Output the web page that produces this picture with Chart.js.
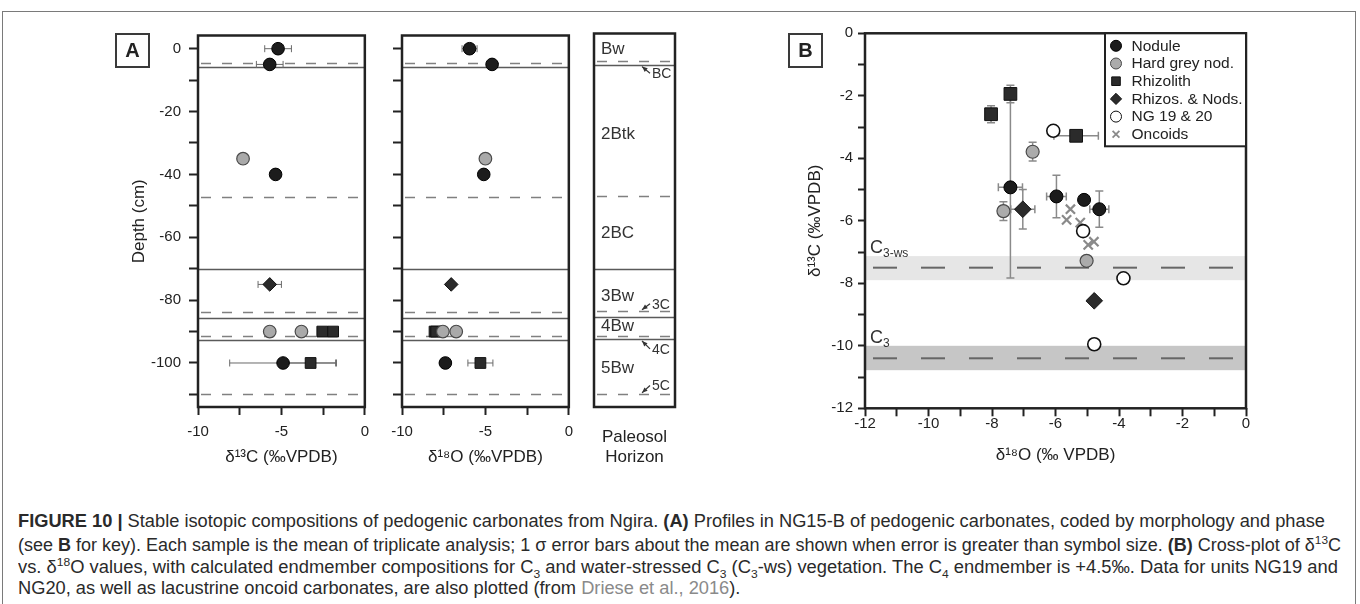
<!DOCTYPE html>
<html>
<head>
<meta charset="utf-8">
<script src="https://cdn.jsdelivr.net/npm/chart.js@4.4.1/dist/chart.umd.min.js"></script>
<style>
html,body{margin:0;padding:0;background:#fff;}
body{width:1360px;height:604px;position:relative;overflow:hidden;font-family:'Liberation Sans',Arial,Helvetica,sans-serif;color:#222;}
canvas{position:absolute;}
.plabel{position:absolute;width:31px;height:31px;border:2px solid #3a3a3a;font-weight:bold;font-size:20px;line-height:31px;text-align:center;color:#222;z-index:2;}
.frame{position:absolute;left:2px;top:11px;width:1352px;height:620px;border:1.5px solid #7a7a7a;}
.cap{position:absolute;left:18px;white-space:nowrap;font-family:'Liberation Sans Narrow','Liberation Sans',Arial,sans-serif;font-size:17.5px;line-height:20px;color:#2a2a2a;transform-origin:0 0;}
.cap sup,.cap sub{font-size:11.5px;line-height:0;}
.cap .ref{color:#8a8a8a;}
</style>
</head>
<body>
<div class="frame"></div>
<div class="plabel" style="left:115px;top:33px;">A</div>
<div class="plabel" style="left:788px;top:33px;">B</div>
<canvas id="cA1" width="249" height="447" style="left:129px;top:20px;"></canvas>
<canvas id="cA2" width="200" height="447" style="left:382px;top:20px;"></canvas>
<canvas id="cA3" width="101" height="447" style="left:584px;top:20px;"></canvas>
<canvas id="cB" width="451" height="447" style="left:805px;top:20px;"></canvas>

<div class="cap" id="cap1" style="top:511px;"><b>FIGURE 10 |</b> Stable isotopic compositions of pedogenic carbonates from Ngira. <b>(A)</b> Profiles in NG15-B of pedogenic carbonates, coded by morphology and phase</div>
<div class="cap" id="cap2" style="top:535px;">(see <b>B</b> for key). Each sample is the mean of triplicate analysis; 1 σ error bars about the mean are shown when error is greater than symbol size. <b>(B)</b> Cross-plot of δ<sup>13</sup>C</div>
<div class="cap" id="cap3" style="top:557px;">vs. δ<sup>18</sup>O values, with calculated endmember compositions for C<sub>3</sub> and water-stressed C<sub>3</sub> (C<sub>3</sub>-ws) vegetation. The C<sub>4</sub> endmember is +4.5‰. Data for units NG19 and</div>
<div class="cap" id="cap4" style="top:578px;">NG20, as well as lacustrine oncoid carbonates, are also plotted (from <span class="ref">Driese et al., 2016</span>).</div>

<script>
// ================= Panel A: depth profiles (NG15-B) =================
const depthTickLabels = [0, -20, -40, -60, -80, -100];
const isoTickLabelsA = [-10, -5, 0];

const noduleDepth   = [0, -5, -40, -100];
const noduleC13     = [-5.2, -5.7, -5.35, -4.9];
const noduleC13Err  = [0.8, 0.8, 0, 3.2];
const noduleO18     = [-5.95, -4.6, -5.1, -7.4];
const noduleO18Err  = [0.45, 0, 0, 0];

const greyNodDepth  = [-35, -90, -90];
const greyNodC13    = [-7.3, -5.7, -3.8];
const greyNodO18    = [-5.0, -7.55, -6.75];

const rhizolithDepth   = [-90, -90, -100];
const rhizolithC13     = [-2.55, -1.9, -3.25];
const rhizolithC13Err  = [0, 0, 1.5];
const rhizolithO18     = [-8.05, -7.95, -5.3];
const rhizolithO18Err  = [0, 0, 0.75];

const rhizNodDepth  = [-75];
const rhizNodC13    = [-5.7];
const rhizNodC13Err = [0.7];
const rhizNodO18    = [-7.05];

const dashedBoundaries = [-4.5, -47.3, -83.7, -91.5, -110];
const solidBoundaries  = [-5.8, -70.2, -85.6, -92.6];

const horizonNames       = ['Bw', '2Btk', '2BC', '3Bw', '4Bw', '5Bw'];
const horizonLabelDepth  = [-0.6, -27.3, -58.7, -78.5, -88.2, -101.5];
const transitionNames    = ['BC', '3C', '4C', '5C'];
const transitionLabelDepth    = [-8.4, -81.3, -95.6, -107.2];
const transitionBoundaryDepth = [-5.8, -83.7, -92.6, -110];

// ================= Panel B: cross-plot =================
const isoTickLabelsB = [-12, -10, -8, -6, -4, -2, 0];
const seriesNames = ['Nodule', 'Hard grey nod.', 'Rhizolith', 'Rhizos. & Nods.', 'NG 19 & 20', 'Oncoids'];

const noduleO18B    = [-7.42, -5.97, -5.1, -4.62];
const noduleC13B    = [-4.93, -5.22, -5.33, -5.63];
const noduleO18ErrB = [0.38, 0.31, 0, 0.3];
const noduleC13ErrB = [2.9, 0.68, 0, 0.58];

const greyO18B    = [-6.72, -7.64, -5.02];
const greyC13B    = [-3.79, -5.69, -7.28];
const greyC13ErrB = [0.3, 0.3, 0];

const rhizolithO18B    = [-8.03, -7.42, -5.35];
const rhizolithC13B    = [-2.59, -1.94, -3.28];
const rhizolithO18ErrB = [0, 0, 0.7];
const rhizolithC13ErrB = [0.27, 0.28, 0];

const rhizNodO18B    = [-7.03, -4.78];
const rhizNodC13B    = [-5.63, -8.56];
const rhizNodO18ErrB = [0.38, 0];
const rhizNodC13ErrB = [0.63, 0];

const ngO18B = [-6.07, -5.13, -3.86, -4.78];
const ngC13B = [-3.12, -6.33, -7.84, -9.95];

const oncoidO18B = [-5.53, -5.65, -5.22, -4.97, -4.79];
const oncoidC13B = [-5.63, -5.97, -6.06, -6.77, -6.67];

const c3wsRange = [-7.9, -7.13];
const c3wsValue = -7.5;
const c3Range   = [-10.78, -10.0];
const c3Value   = -10.4;

// ================= helpers =================
const FONT = "'Liberation Sans', Arial, Helvetica, sans-serif";
const INK = '#222';

function pts(xs, ys, xe, ye) {
  return xs.map((x, i) => ({ x: x, y: ys[i], xerr: xe ? xe[i] : 0, yerr: ye ? ye[i] : 0 }));
}

function style(shape, r, fill, stroke, lw) {
  return {
    type: 'scatter', showLine: false,
    pointStyle: shape, pointRadius: r, pointHoverRadius: r,
    backgroundColor: fill, borderColor: stroke,
    pointBackgroundColor: fill, pointBorderColor: stroke, pointBorderWidth: lw, borderWidth: lw
  };
}

const frameBox = {
  id: 'frameBox',
  afterDraw(chart) {
    const { ctx, chartArea: a } = chart;
    ctx.save();
    ctx.strokeStyle = INK; ctx.lineWidth = 2.5;
    ctx.strokeRect(a.left, a.top, a.right - a.left, a.bottom - a.top);
    ctx.restore();
  }
};

const errorBars = {
  id: 'errorBars',
  beforeDatasetsDraw(chart, args, opts) {
    const { ctx, scales: { x, y } } = chart;
    ctx.save();
    ctx.strokeStyle = opts.color || '#777';
    ctx.lineWidth = opts.width || 1;
    const cap = opts.cap || 3;
    chart.data.datasets.forEach(ds => {
      ds.data.forEach(p => {
        const px = x.getPixelForValue(p.x), py = y.getPixelForValue(p.y);
        if (p.xerr) {
          const l = x.getPixelForValue(p.x - p.xerr), r = x.getPixelForValue(p.x + p.xerr);
          ctx.beginPath();
          ctx.moveTo(l, py); ctx.lineTo(r, py);
          ctx.moveTo(l, py - cap); ctx.lineTo(l, py + cap);
          ctx.moveTo(r, py - cap); ctx.lineTo(r, py + cap);
          ctx.stroke();
        }
        if (p.yerr) {
          const t = y.getPixelForValue(p.y + p.yerr), b = y.getPixelForValue(p.y - p.yerr);
          ctx.beginPath();
          ctx.moveTo(px, t); ctx.lineTo(px, b);
          ctx.moveTo(px - cap, t); ctx.lineTo(px + cap, t);
          ctx.moveTo(px - cap, b); ctx.lineTo(px + cap, b);
          ctx.stroke();
        }
      });
    });
    ctx.restore();
  }
};

const boundaryLines = {
  id: 'boundaryLines',
  beforeDatasetsDraw(chart) {
    const { ctx, chartArea: a, scales: { y } } = chart;
    ctx.save();
    ctx.lineWidth = 1.5;
    ctx.strokeStyle = '#808080';
    ctx.setLineDash([10, 11]);
    dashedBoundaries.forEach(d => {
      const py = Math.round(y.getPixelForValue(d)) + 0.5;
      ctx.beginPath(); ctx.moveTo(a.left + 3, py); ctx.lineTo(a.right, py); ctx.stroke();
    });
    ctx.setLineDash([]);
    ctx.strokeStyle = '#5a5a5a';
    solidBoundaries.forEach(d => {
      const py = Math.round(y.getPixelForValue(d)) + 0.5;
      ctx.beginPath(); ctx.moveTo(a.left, py); ctx.lineTo(a.right, py); ctx.stroke();
    });
    ctx.restore();
  }
};

const horizonLabels = {
  id: 'horizonLabels',
  afterDatasetsDraw(chart) {
    const { ctx, chartArea: a, scales: { y } } = chart;
    ctx.save();
    ctx.fillStyle = '#333';
    ctx.textBaseline = 'middle';
    ctx.font = '17px ' + FONT;
    horizonNames.forEach((n, i) => ctx.fillText(n, a.left + 7, y.getPixelForValue(horizonLabelDepth[i]) + 1));
    ctx.font = '14px ' + FONT;
    transitionNames.forEach((n, i) => {
      const ly = y.getPixelForValue(transitionLabelDepth[i]);
      const hy = y.getPixelForValue(transitionBoundaryDepth[i]) + (transitionBoundaryDepth[i] > transitionLabelDepth[i] ? 1.5 : -1.5);
      const tx = a.left + 56, hx = a.left + 48;
      ctx.fillText(n, a.left + 58, ly + 1);
      ctx.strokeStyle = '#333'; ctx.lineWidth = 1.2;
      ctx.beginPath(); ctx.moveTo(tx, ly); ctx.lineTo(hx, hy); ctx.stroke();
      const ang = Math.atan2(hy - ly, hx - tx);
      ctx.beginPath();
      ctx.moveTo(hx, hy);
      ctx.lineTo(hx - 6 * Math.cos(ang - 0.4), hy - 6 * Math.sin(ang - 0.4));
      ctx.lineTo(hx - 6 * Math.cos(ang + 0.4), hy - 6 * Math.sin(ang + 0.4));
      ctx.closePath(); ctx.fill();
    });
    ctx.restore();
  }
};

function tickFont(size) { return { family: FONT, size: size, lineHeight: 1 }; }
function titleFont() { return { family: FONT, size: 17, lineHeight: 1.18 }; }

function profileChart(id, datasets, xTitle, yWidth, showDepthLabels, yTitle) {
  return new Chart(document.getElementById(id), {
    type: 'scatter',
    data: { datasets: datasets },
    plugins: [boundaryLines, errorBars, frameBox],
    options: {
      responsive: false, animation: false, devicePixelRatio: 1,
      layout: { padding: { top: 13.5, right: 10, left: 0, bottom: 0 } },
      plugins: { legend: { display: false }, tooltip: { enabled: false }, errorBars: { color: '#6a6a6a', width: 1, cap: 3.5 } },
      scales: {
        x: {
          type: 'linear', min: -10, max: 0,
          afterFit: s => { s.height = 60; },
          ticks: { stepSize: 2.5, autoSkip: false, padding: 9, color: INK, font: tickFont(15), maxRotation: 0,
                   callback: v => isoTickLabelsA.includes(v) ? String(v) : '' },
          grid: { drawOnChartArea: false, drawTicks: true, tickLength: 8, tickWidth: 2, tickColor: INK },
          border: { display: false },
          title: { display: true, text: xTitle, color: INK, font: titleFont(), padding: { top: 0, bottom: 0 } }
        },
        y: {
          type: 'linear', min: -114, max: 4.2,
          afterFit: s => { s.width = yWidth; },
          ticks: { stepSize: 10, includeBounds: false, autoSkip: false, padding: 8, color: INK, font: tickFont(15),
                   callback: v => (showDepthLabels && depthTickLabels.includes(v)) ? String(v) : '' },
          grid: { drawOnChartArea: false, drawTicks: true, tickLength: 9, tickWidth: 2, tickColor: INK },
          border: { display: false },
          title: { display: !!yTitle, text: yTitle || '', color: INK, font: titleFont(), padding: { top: 0, bottom: 0 } }
        }
      }
    }
  });
}

const A_NOD  = () => style('circle', 6.3, '#1c1c1c', '#000', 1);
const A_GREY = () => style('circle', 6.3, '#a9a9a9', '#4a4a4a', 1.2);
const A_RHIZ = () => style('rect', 7.6, '#2b2b2b', '#111', 1);
const A_MIX  = () => style('rectRot', 6.8, '#2b2b2b', '#111', 1);

profileChart('cA1', [
  Object.assign(A_NOD(),  { label: seriesNames[0], data: pts(noduleC13, noduleDepth, noduleC13Err) }),
  Object.assign(A_RHIZ(), { label: seriesNames[2], data: pts(rhizolithC13, rhizolithDepth, rhizolithC13Err) }),
  Object.assign(A_GREY(), { label: seriesNames[1], data: pts(greyNodC13, greyNodDepth) }),
  Object.assign(A_MIX(),  { label: seriesNames[3], data: pts(rhizNodC13, rhizNodDepth, rhizNodC13Err) })
], 'δ¹³C (‰VPDB)', 69, true, 'Depth (cm)');

profileChart('cA2', [
  Object.assign(A_NOD(),  { label: seriesNames[0], data: pts(noduleO18, noduleDepth, noduleO18Err) }),
  Object.assign(A_GREY(), { label: seriesNames[1], data: pts(greyNodO18, greyNodDepth) }),
  Object.assign(A_RHIZ(), { label: seriesNames[2], data: pts(rhizolithO18, rhizolithDepth, rhizolithO18Err) }),
  Object.assign(A_MIX(),  { label: seriesNames[3], data: pts(rhizNodO18, rhizNodDepth) })
], 'δ¹⁸O (‰VPDB)', 20, false, null);

// Horizon column
new Chart(document.getElementById('cA3'), {
  type: 'scatter',
  data: { datasets: [] },
  plugins: [boundaryLines, horizonLabels, frameBox],
  options: {
    responsive: false, animation: false, devicePixelRatio: 1,
    layout: { padding: { top: 13.5, right: 10, left: 10, bottom: 0 } },
    plugins: { legend: { display: false }, tooltip: { enabled: false } },
    scales: {
      x: {
        type: 'linear', min: 0, max: 1,
        afterFit: s => { s.height = 60; },
        ticks: { display: false }, grid: { display: false }, border: { display: false },
        title: { display: true, text: ['Paleosol', 'Horizon'], color: INK, font: titleFont(), padding: { top: 0, bottom: 0 } }
      },
      y: { type: 'linear', min: -114, max: 4.2, display: false }
    }
  }
});

// ================= Panel B chart =================
const bands = {
  id: 'bands',
  beforeDatasetsDraw(chart) {
    const { ctx, chartArea: a, scales: { y } } = chart;
    ctx.save();
    const drawBand = (range, value, fill, name) => {
      const t = y.getPixelForValue(range[1]), b = y.getPixelForValue(range[0]);
      ctx.fillStyle = fill;
      ctx.fillRect(a.left, t, a.right - a.left, b - t);
      const py = y.getPixelForValue(value);
      ctx.strokeStyle = '#666'; ctx.lineWidth = 2; ctx.setLineDash([24, 24]); ctx.lineDashOffset = -8;
      ctx.beginPath(); ctx.moveTo(a.left, py); ctx.lineTo(a.right, py); ctx.stroke();
      ctx.setLineDash([]);
      ctx.fillStyle = '#333';
      ctx.textBaseline = 'alphabetic';
      ctx.font = '18px ' + FONT;
      ctx.fillText('C', a.left + 5, t - 3);
      const w = ctx.measureText('C').width;
      ctx.font = '12px ' + FONT;
      ctx.fillText(name, a.left + 5 + w, t + 1);
    };
    drawBand(c3wsRange, c3wsValue, '#e6e6e6', '3-ws');
    drawBand(c3Range, c3Value, '#c6c6c6', '3');
    ctx.restore();
  }
};

function drawMarker(ctx, shape, x, y, r, fill, stroke, lw) {
  ctx.beginPath();
  if (shape === 'circle') ctx.arc(x, y, r, 0, Math.PI * 2);
  else if (shape === 'rect') ctx.rect(x - r, y - r, 2 * r, 2 * r);
  else if (shape === 'rectRot') { ctx.moveTo(x, y - r); ctx.lineTo(x + r, y); ctx.lineTo(x, y + r); ctx.lineTo(x - r, y); ctx.closePath(); }
  else if (shape === 'crossRot') { ctx.moveTo(x - r, y - r); ctx.lineTo(x + r, y + r); ctx.moveTo(x + r, y - r); ctx.lineTo(x - r, y + r); }
  if (shape !== 'crossRot') { ctx.fillStyle = fill; ctx.fill(); }
  ctx.strokeStyle = stroke; ctx.lineWidth = lw; ctx.stroke();
}

const boxLegend = {
  id: 'boxLegend',
  afterDraw(chart) {
    const { ctx, chartArea: a } = chart;
    const w = 141, h = 113;
    const x0 = a.right - w, y0 = a.top;
    ctx.save();
    ctx.fillStyle = '#fff';
    ctx.fillRect(x0, y0, w, h);
    ctx.strokeStyle = INK; ctx.lineWidth = 2;
    ctx.strokeRect(x0, y0, w, h);
    const legendSize = { circle: 5.5, rect: 4.3, rectRot: 5.6, crossRot: 3.4 };
    chart.data.datasets.slice().sort((p, q) => p.legendOrder - q.legendOrder).forEach((ds, i) => {
      const cy = y0 + 12.5 + i * 17.7;
      const cx = x0 + 11;
      drawMarker(ctx, ds.pointStyle, cx, cy, legendSize[ds.pointStyle], ds.pointBackgroundColor, ds.pointBorderColor,
                 ds.pointStyle === 'crossRot' ? 1.8 : 1);
      ctx.fillStyle = INK;
      ctx.font = '15.5px ' + FONT;
      ctx.textBaseline = 'middle';
      ctx.fillText(ds.label, x0 + 26.5, cy + 0.5);
    });
    ctx.restore();
  }
};

new Chart(document.getElementById('cB'), {
  type: 'scatter',
  data: {
    datasets: [
      Object.assign(style('circle', 6.5, '#1c1c1c', '#000', 1),  { label: seriesNames[0], legendOrder: 0, data: pts(noduleO18B, noduleC13B, noduleO18ErrB, noduleC13ErrB) }),
      Object.assign(style('rectRot', 8.3, '#2b2b2b', '#111', 1), { label: seriesNames[3], legendOrder: 3, data: pts(rhizNodO18B, rhizNodC13B, rhizNodO18ErrB, rhizNodC13ErrB) }),
      Object.assign(style('circle', 6.5, '#ababab', '#4a4a4a', 1.2), { label: seriesNames[1], legendOrder: 1, data: pts(greyO18B, greyC13B, null, greyC13ErrB) }),
      Object.assign(style('rect', 9, '#2b2b2b', '#111', 1),      { label: seriesNames[2], legendOrder: 2, data: pts(rhizolithO18B, rhizolithC13B, rhizolithO18ErrB, rhizolithC13ErrB) }),
      Object.assign(style('circle', 6.5, '#ffffff', '#111', 1.6), { label: seriesNames[4], legendOrder: 4, data: pts(ngO18B, ngC13B) }),
      Object.assign(style('crossRot', 6.5, '#8a8a8a', '#8a8a8a', 2.2), { label: seriesNames[5], legendOrder: 5, data: pts(oncoidO18B, oncoidC13B) })
    ]
  },
  plugins: [bands, errorBars, frameBox, boxLegend],
  options: {
    responsive: false, animation: false, devicePixelRatio: 1,
    layout: { padding: { top: 13.3, right: 10, left: 0, bottom: 0 } },
    plugins: { legend: { display: false }, tooltip: { enabled: false }, errorBars: { color: '#8a8a8a', width: 1.5, cap: 4 } },
    scales: {
      x: {
        type: 'linear', min: -12, max: 0,
        afterFit: s => { s.height = 58.7; },
        ticks: { stepSize: 1, autoSkip: false, padding: 0, color: INK, font: tickFont(15), maxRotation: 0,
                 callback: v => isoTickLabelsB.includes(v) ? String(v) : '' },
        grid: { drawOnChartArea: false, drawTicks: true, tickLength: 8, tickWidth: 2, tickColor: INK },
        border: { display: false },
        title: { display: true, text: 'δ¹⁸O (‰ VPDB)', color: INK, font: titleFont(), padding: { top: 0, bottom: 2 } }
      },
      y: {
        type: 'linear', min: -12, max: 0,
        afterFit: s => { s.width = 60; },
        ticks: { stepSize: 1, autoSkip: false, padding: 5, color: INK, font: tickFont(15),
                 callback: v => isoTickLabelsB.includes(v) ? String(v) : '' },
        grid: { drawOnChartArea: false, drawTicks: true, tickLength: 7, tickWidth: 2, tickColor: INK },
        border: { display: false },
        title: { display: true, text: 'δ¹³C (‰VPDB)', color: INK, font: titleFont(), padding: { top: 0, bottom: 0 } }
      }
    }
  }
});

// ================= caption width fit =================
(function fitCaption() {
  const targets = { cap1: 1307, cap2: 1323, cap3: 1320 };
  let s1 = 1;
  ['cap1', 'cap2', 'cap3'].forEach(id => {
    const el = document.getElementById(id);
    const w = el.getBoundingClientRect().width;
    const s = targets[id] / w;
    if (id === 'cap1') s1 = s;
    el.style.transform = 'scaleX(' + s.toFixed(4) + ')';
  });
  document.getElementById('cap4').style.transform = 'scaleX(' + s1.toFixed(4) + ')';
})();
</script>
</body>
</html>
